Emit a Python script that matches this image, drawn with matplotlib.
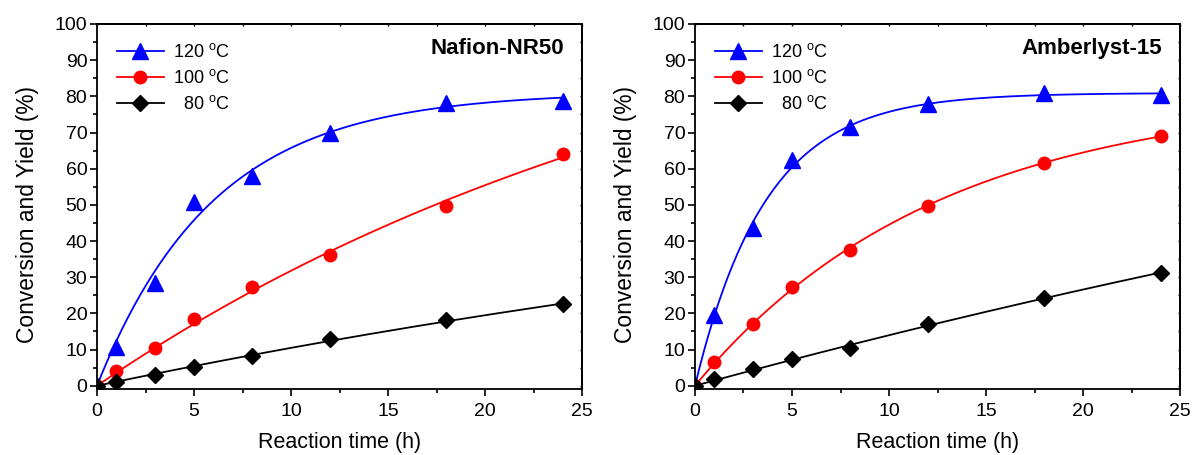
import numpy as np
import matplotlib
matplotlib.use("Agg")
import matplotlib.pyplot as plt
from matplotlib.ticker import MultipleLocator

plt.rcParams['font.family'] = ['Liberation Sans', 'DejaVu Sans']
plt.rcParams['mathtext.fontset'] = 'custom'
plt.rcParams['mathtext.rm'] = 'Liberation Sans'

time_h = [0, 1, 3, 5, 8, 12, 18, 24]

# Nafion-NR50
naf_120 = [0, 10.8, 28.4, 50.8, 58.0, 69.8, 78.2, 78.8]
naf_100 = [0, 4.2, 10.3, 18.4, 27.3, 36.1, 49.6, 64.2]
naf_80 = [0, 1.1, 3.1, 5.2, 8.1, 12.8, 18.1, 22.5]

# Amberlyst-15
amb_120 = [0, 19.6, 43.6, 62.3, 71.6, 77.8, 80.8, 80.3]
amb_100 = [0, 6.5, 17.2, 27.4, 37.6, 49.8, 61.7, 69.0]
amb_80 = [0, 1.8, 4.5, 7.3, 10.5, 17.0, 24.3, 31.2]

titles = ['Nafion-NR50', 'Amberlyst-15']
labels = ['120 $^{\\mathrm{o}}$C', '100 $^{\\mathrm{o}}$C', '  80 $^{\\mathrm{o}}$C']
colors = ['#0000ff', '#ff0000', '#000000']
markers = ['^', 'o', 'D']
msizes = [11.5, 9, 8]


def fit_curve(t, y):
    t = np.asarray(t, float)
    y = np.asarray(y, float)
    best = None
    for k in np.logspace(-4, 0.3, 3000):
        f = 1 - np.exp(-k * t)
        a = np.dot(y, f) / np.dot(f, f)
        err = np.sum((a * f - y) ** 2)
        if best is None or err < best[0]:
            best = (err, a, k)
    _, a, k = best
    tt = np.linspace(0, t.max(), 300)
    return tt, a * (1 - np.exp(-k * tt))


fig = plt.figure(figsize=(11.94, 4.55), dpi=100)
ax_pos = [[97 / 1194, 66 / 455, 485 / 1194, 365 / 455],
          [695 / 1194, 66 / 455, 485 / 1194, 365 / 455]]
datasets = [[naf_120, naf_100, naf_80], [amb_120, amb_100, amb_80]]

for pos, data, title in zip(ax_pos, datasets, titles):
    ax = fig.add_axes(pos)
    for y, c, m, ms, lab in zip(data, colors, markers, msizes, labels):
        tt, yy = fit_curve(time_h, y)
        ax.plot(tt, yy, color=c, lw=1.3, zorder=2)
        ax.plot(time_h, y, linestyle='none', marker=m, color=c, ms=ms, zorder=3)
        ax.plot([], [], color=c, marker=m, ms=ms, lw=1.3, label=lab)
    ax.set_xlim(0, 25)
    ax.set_ylim(-0.9, 100)
    ax.xaxis.set_major_locator(MultipleLocator(5))
    ax.xaxis.set_minor_locator(MultipleLocator(2.5))
    ax.yaxis.set_major_locator(MultipleLocator(10))
    ax.yaxis.set_minor_locator(MultipleLocator(5))
    ax.tick_params(which='major', direction='out', length=5, width=1.2,
                   labelsize=14)
    ax.tick_params(axis='y', which='major', pad=2)
    ax.tick_params(axis='x', which='major', pad=5)
    ax.tick_params(which='minor', direction='out', length=3, width=1.2)
    for sp in ax.spines.values():
        sp.set_linewidth(1.3)
    # mirror small ticks on top/right
    secx = ax.secondary_xaxis('top')
    secx.xaxis.set_major_locator(MultipleLocator(5))
    secx.xaxis.set_minor_locator(MultipleLocator(2.5))
    secx.tick_params(which='both', direction='in', length=1.5, width=1, labeltop=False)
    secy = ax.secondary_yaxis('right')
    secy.yaxis.set_major_locator(MultipleLocator(10))
    secy.yaxis.set_minor_locator(MultipleLocator(5))
    secy.tick_params(which='both', direction='in', length=1.5, width=1, labelright=False)
    for s in (secx, secy):
        for sp in s.spines.values():
            sp.set_linewidth(1.3)
    ax.set_xlabel('Reaction time (h)', fontsize=15.5, labelpad=8.5)
    ax.set_ylabel('Conversion and Yield (%)', fontsize=16.4, labelpad=11)
    ax.yaxis.label.set_y(0.477)
    ax.text(0.963, 0.934, title, transform=ax.transAxes, ha='right', va='center',
            fontsize=16, fontweight='bold')
    leg = ax.legend(loc='upper left', bbox_to_anchor=(20 / 485, 0.948), frameon=False,
                    fontsize=13, handlelength=2.6, handletextpad=0.5,
                    labelspacing=0.45, borderaxespad=0, borderpad=0)

fig.savefig('out.png', dpi=100)
